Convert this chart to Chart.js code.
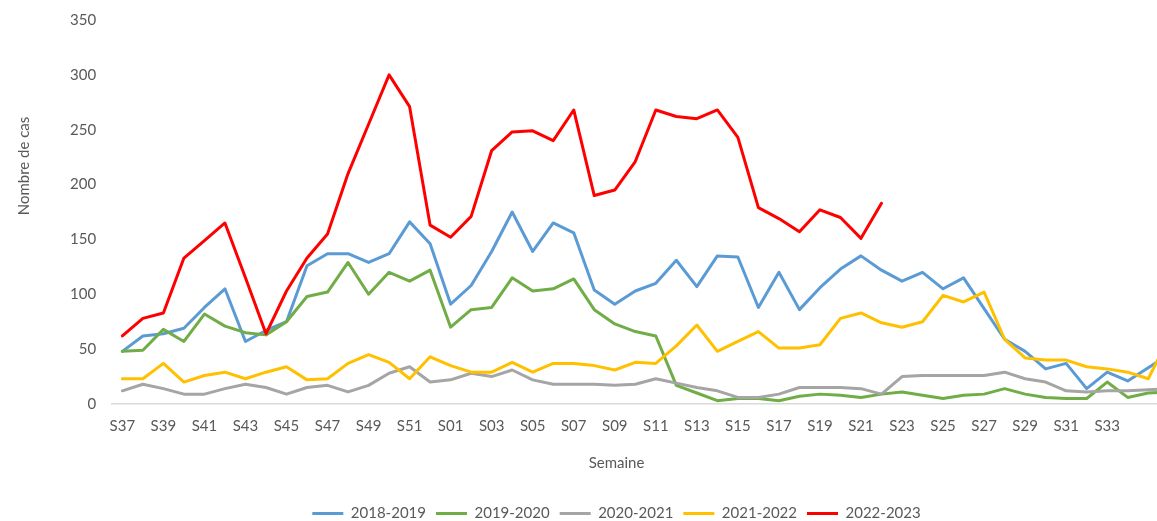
<!DOCTYPE html>
<html lang="fr">
<head>
<meta charset="utf-8">
<title>Nombre de cas par semaine</title>
<script src="https://cdn.jsdelivr.net/npm/chart.js@4.4.1/dist/chart.umd.min.js"></script>
<style>
  html, body { margin: 0; padding: 0; background: #fff; overflow: hidden; }
  #wrap { width: 1228px; height: 526px; margin-top: -5px; }
</style>
</head>
<body>
<div id="wrap"><canvas id="chart" width="1228" height="526"></canvas></div>
<script>
// weeks S37..S52 then S01..S36
const weeks = [
  "S37","S38","S39","S40","S41","S42","S43","S44","S45","S46","S47","S48","S49","S50","S51","S52",
  "S01","S02","S03","S04","S05","S06","S07","S08","S09","S10","S11","S12","S13","S14","S15","S16",
  "S17","S18","S19","S20","S21","S22","S23","S24","S25","S26","S27","S28","S29","S30","S31","S32",
  "S33","S34","S35","S36"
];

const s2018 = [48, 62, 64, 69, 88, 105, 57, 67, 75, 126, 137, 137, 129, 137, 166, 146,
  91, 108, 139, 175, 139, 165, 156, 104, 91, 103, 110, 131, 107, 135, 134, 88,
  120, 86, 106, 123, 135, 122, 112, 120, 105, 115, 87, 59, 48, 32, 37, 14,
  29, 21, 33, 45];

const s2019 = [48, 49, 68, 57, 82, 71, 65, 63, 75, 98, 102, 129, 100, 120, 112, 122,
  70, 86, 88, 115, 103, 105, 114, 86, 73, 66, 62, 17, 10, 3, 5, 5,
  3, 7, 9, 8, 6, 9, 11, 8, 5, 8, 9, 14, 9, 6, 5, 5,
  20, 6, 10, 11];

const s2020 = [12, 18, 14, 9, 9, 14, 18, 15, 9, 15, 17, 11, 17, 28, 34, 20,
  22, 28, 25, 31, 22, 18, 18, 18, 17, 18, 23, 19, 15, 12, 6, 6,
  9, 15, 15, 15, 14, 9, 25, 26, 26, 26, 26, 29, 23, 20, 12, 11,
  12, 12, 13, 14];

const s2021 = [23, 23, 37, 20, 26, 29, 23, 29, 34, 22, 23, 37, 45, 38, 23, 43,
  35, 29, 29, 38, 29, 37, 37, 35, 31, 38, 37, 53, 72, 48, 57, 66,
  51, 51, 54, 78, 83, 74, 70, 75, 99, 93, 102, 59, 42, 40, 40, 34,
  32, 29, 23, 60];

const s2022 = [62, 78, 83, 133, 149, 165, 115, 64, 103, 133, 155, 210, 255, 300, 271, 163,
  152, 171, 231, 248, 249, 240, 268, 190, 195, 221, 268, 262, 260, 268, 243, 179,
  169, 157, 177, 170, 151, 183];

const seasons = ["2018-2019", "2019-2020", "2020-2021", "2021-2022", "2022-2023"];
const colors = ["#5B9BD5", "#70AD47", "#A5A5A5", "#FFC000", "#FF0000"];
const series = [s2018, s2019, s2020, s2021, s2022];

const TEXT = "#595959";
Chart.defaults.font.family = "Lato, 'Open Sans', sans-serif";
Chart.defaults.font.size = 15;
Chart.defaults.color = TEXT;

// y axis title drawn by hand, Excel had it off-centre
const yTitle = {
  id: "yTitle",
  afterDraw(chart) {
    const { ctx, chartArea } = chart;
    ctx.save();
    ctx.fillStyle = TEXT;
    ctx.font = "15px Lato, 'Open Sans', sans-serif";
    ctx.textAlign = "center";
    ctx.textBaseline = "middle";
    ctx.translate(chartArea.left - 88, chartArea.top + 146);
    ctx.rotate(-Math.PI / 2);
    ctx.fillText("Nombre de cas", 0, 0);
    ctx.restore();
  }
};

const datasets = series.map((data, i) => ({
  label: seasons[i],
  data,
  borderColor: colors[i],
  backgroundColor: colors[i],
  borderWidth: 3,
  pointRadius: 0,
  pointHoverRadius: 0,
  pointStyle: "line",
  tension: 0,
  borderJoinStyle: "round",
  borderCapStyle: "round",
  order: series.length - i   // later seasons on top
}));

new Chart(document.getElementById("chart"), {
  type: "line",
  data: { labels: weeks, datasets },
  options: {
    responsive: false,
    animation: false,
    layout: { padding: { top: 14, left: 54, right: 49, bottom: -10 } },
    scales: {
      x: {
        offset: true,
        grid: { display: false, drawTicks: false },
        border: { display: true, color: "#D9D9D9", width: 1.5 },
        ticks: {
          autoSkip: false,
          maxRotation: 0,
          padding: 13,
          // every other week; the last one is cut off in the original
          callback: function (value, index) {
            if (index % 2 !== 0 || index >= weeks.length - 2) return "";
            return this.getLabelForValue(value);
          }
        }
      },
      y: {
        min: 0,
        max: 350,
        grid: { display: false, drawTicks: false },
        border: { display: false },
        ticks: { stepSize: 50, padding: 16 }
      }
    },
    plugins: {
      title: {
        display: true,
        text: "Semaine",
        position: "bottom",
        weight: 500,
        font: { weight: "normal", size: 15 },
        color: TEXT,
        padding: { top: 6, bottom: 24 }
      },
      legend: {
        position: "bottom",
        labels: {
          usePointStyle: true,
          pointStyleWidth: 31,
          padding: 10,
          sort: (a, b) => a.datasetIndex - b.datasetIndex
        }
      },
      tooltip: { enabled: false }
    }
  },
  plugins: [yTitle]
});
</script>
</body>
</html>
